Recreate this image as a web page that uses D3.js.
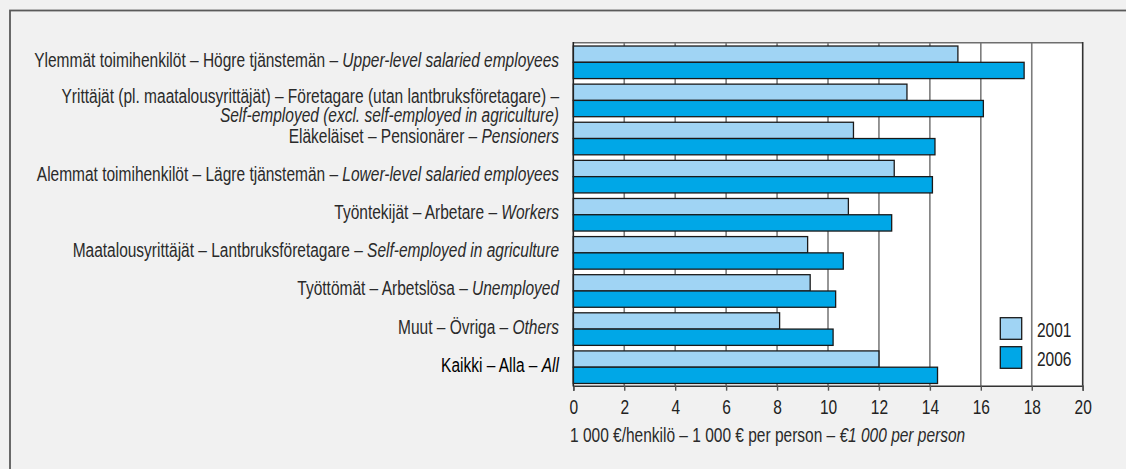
<!DOCTYPE html>
<html>
<head>
<meta charset="utf-8">
<script src="https://cdn.jsdelivr.net/npm/d3@7"></script>
<style>
  html, body { margin: 0; padding: 0; background: #f1f1f1; }
  svg { display: block; }
  text { font-family: "Liberation Sans", Arial, sans-serif; }
</style>
</head>
<body>
<svg id="chart" width="1126" height="469"></svg>
<script>
// Disposable income per person by socio-economic group, 2001 and 2006
const groupsFi = [
  "Ylemmät toimihenkilöt", "Yrittäjät (pl. maatalousyrittäjät)", "Eläkeläiset",
  "Alemmat toimihenkilöt", "Työntekijät", "Maatalousyrittäjät",
  "Työttömät", "Muut", "Kaikki"
];
const groupsSv = [
  "Högre tjänstemän", "Företagare (utan lantbruksföretagare)", "Pensionärer",
  "Lägre tjänstemän", "Arbetare", "Lantbruksföretagare",
  "Arbetslösa", "Övriga", "Alla"
];
const groupsEn = [
  "Upper-level salaried employees", "Self-employed (excl. self-employed in agriculture)", "Pensioners",
  "Lower-level salaried employees", "Workers", "Self-employed in agriculture",
  "Unemployed", "Others", "All"
];
const years = ["2001", "2006"];
const values2001 = [15.1, 13.1, 11.0, 12.6, 10.8, 9.2, 9.3, 8.1, 12.0];
const values2006 = [17.7, 16.1, 14.2, 14.1, 12.5, 10.6, 10.3, 10.2, 14.3];
const xTicks = [0, 2, 4, 6, 8, 10, 12, 14, 16, 18, 20];
const unitFi = "1 000 €/henkilö";
const unitSv = "1 000 € per person";
const unitEn = "€1 000 per person";

const colors = { "2001": "#a0d4f4", "2006": "#00a7e7" };
const fontSize = 20;
const narrow = 0.775;   // horizontal squeeze for a condensed type look

const svg = d3.select("#chart");
const W = 1126, H = 469;
const plot = { left: 573.3, right: 1082.7, top: 42.7, bottom: 385.7 };

// condensed text anchored at (x, y)
function narrowText(parent, tx, ty) {
  return parent.append("text")
    .attr("transform", `translate(${tx},${ty}) scale(${narrow},1)`)
    .attr("font-size", fontSize);
}

// outer frame
svg.append("rect").attr("x", 0).attr("y", 0).attr("width", W).attr("height", H).attr("fill", "#f1f1f1");
svg.append("rect").attr("x", 10).attr("y", 10.5).attr("width", W + 20).attr("height", H + 20)
  .attr("fill", "#f1f1f1").attr("stroke", "#5a5a5a").attr("stroke-width", 1.8);

const x = d3.scaleLinear().domain([0, 20]).range([plot.left, plot.right]);
const y = d3.scaleBand().domain(groupsFi).range([plot.top, plot.bottom]).padding(0);
const ySub = d3.scaleBand().domain(years).range([0, y.bandwidth()])
  .paddingInner(0).paddingOuter(0.17).align(0.6);

// plot background
svg.append("rect").attr("x", plot.left).attr("y", plot.top)
  .attr("width", plot.right - plot.left).attr("height", plot.bottom - plot.top)
  .attr("fill", "#ffffff");

// vertical grid
svg.append("g").selectAll("line").data(xTicks.filter(d => d > 0 && d < 20)).join("line")
  .attr("x1", d => x(d)).attr("x2", d => x(d))
  .attr("y1", plot.top).attr("y2", plot.bottom)
  .attr("stroke", "#7c7c7c").attr("stroke-width", 1.6);

// top border
svg.append("line").attr("x1", plot.left).attr("x2", plot.right)
  .attr("y1", plot.top).attr("y2", plot.top)
  .attr("stroke", "#6e6e6e").attr("stroke-width", 1.6);
// right border
svg.append("line").attr("x1", plot.right).attr("x2", plot.right)
  .attr("y1", plot.top - 0.8).attr("y2", plot.bottom)
  .attr("stroke", "#333").attr("stroke-width", 1.6);

// bars
const rows = groupsFi.map((g, i) => ({ g, v: { "2001": values2001[i], "2006": values2006[i] } }));
const gRow = svg.append("g").selectAll("g").data(rows).join("g")
  .attr("transform", d => `translate(0,${y(d.g)})`);
gRow.selectAll("rect").data(d => years.map(yr => ({ yr, v: d.v[yr] }))).join("rect")
  .attr("x", x(0))
  .attr("y", d => ySub(d.yr))
  .attr("width", d => x(d.v) - x(0))
  .attr("height", ySub.bandwidth())
  .attr("fill", d => colors[d.yr])
  .attr("stroke", "#1a1a1a").attr("stroke-width", 1.3);

// x axis
const xAxis = svg.append("g").attr("transform", `translate(0,${plot.bottom})`)
  .call(d3.axisBottom(x).tickValues(xTicks).tickSize(5).tickPadding(9).tickFormat(d3.format("d")));
xAxis.select(".domain").attr("stroke", "#333").attr("stroke-width", 1.6);
xAxis.selectAll(".tick line").attr("stroke", "#555").attr("stroke-width", 1.4);
xAxis.selectAll(".tick text")
  .attr("font-size", fontSize).attr("fill", "#222").attr("font-family", null)
  .attr("transform", `scale(${narrow},1)`);

// y axis line
svg.append("line").attr("x1", plot.left).attr("x2", plot.left)
  .attr("y1", plot.top - 0.8).attr("y2", plot.bottom + 0.8)
  .attr("stroke", "#222").attr("stroke-width", 1.6);

// category labels: Finnish – Swedish – English (italic)
const labelX = 559;
const maxLabelW = 555;
const lineGap = 18.4;
const labels = svg.append("g").attr("text-anchor", "end");
groupsFi.forEach((fi, i) => {
  const cy = y(fi) + y.bandwidth() / 2 + 5;
  const fill = i === groupsFi.length - 1 ? "#000" : "#2a2a2a";
  const t = narrowText(labels, labelX, cy).attr("fill", fill);
  t.append("tspan").text(`${fi} – ${groupsSv[i]} – `);
  t.append("tspan").attr("font-style", "italic").text(groupsEn[i]);
  if (t.node().getComputedTextLength() * narrow > maxLabelW) {
    // too long for one line: English part goes on a second line
    t.attr("transform", `translate(${labelX},${cy - 1.7}) scale(${narrow},1)`);
    t.selectAll("tspan").remove();
    t.append("tspan").attr("x", 0).text(`${fi} – ${groupsSv[i]} –`);
    t.append("tspan").attr("x", 0).attr("dy", lineGap).attr("font-style", "italic").text(groupsEn[i]);
  }
});

// unit label
const unit = narrowText(svg, 570, 442).attr("fill", "#2a2a2a");
unit.append("tspan").text(`${unitFi} – ${unitSv} – `);
unit.append("tspan").attr("font-style", "italic").text(unitEn);

// legend
const legend = svg.append("g");
const legendY = d3.scaleBand().domain(years).range([314, 372]);
years.forEach(yr => {
  legend.append("rect").attr("x", 1000.3).attr("y", legendY(yr) + 3.7)
    .attr("width", 21.4).attr("height", 21.6)
    .attr("fill", colors[yr]).attr("stroke", "#1a1a1a").attr("stroke-width", 1.3);
  narrowText(legend, 1037, legendY(yr) + 22.5).attr("fill", "#222").text(yr);
});
</script>
</body>
</html>
